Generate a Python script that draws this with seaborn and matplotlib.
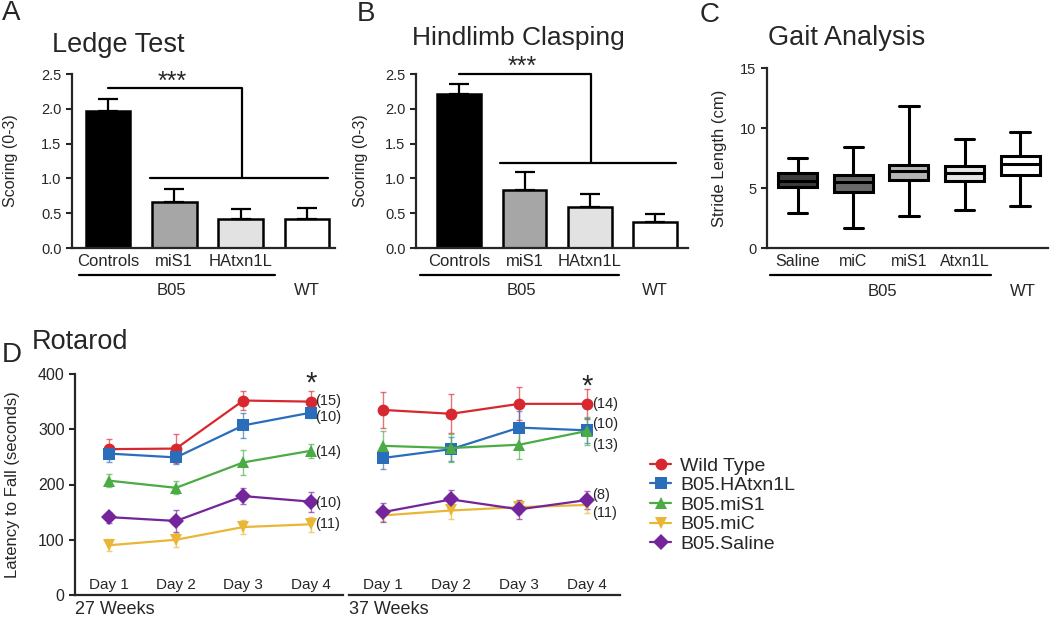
import numpy as np
import pandas as pd
import matplotlib
matplotlib.use("Agg")
import matplotlib.pyplot as plt
import seaborn as sns

sns.set_style("ticks")
plt.rcParams["font.family"] = ["Liberation Sans", "DejaVu Sans"]
plt.rcParams["axes.linewidth"] = 1.6

# A / B: behaviour scores
score_groups = ["Controls", "miS1", "HAtxn1L", "WT"]
ledge_means = [1.97, 0.66, 0.42, 0.42]
ledge_sem = [0.17, 0.19, 0.14, 0.15]
clasp_means = [2.22, 0.83, 0.59, 0.37]
clasp_sem = [0.13, 0.26, 0.19, 0.12]
bar_colors = ["black", "#a6a6a6", "#e2e2e2", "white"]

# C: gait analysis (min, quartiles, max)
gait_groups = ["Saline", "miC", "miS1", "Atxn1L", "WT"]
gait_min = [2.9, 1.7, 2.7, 3.2, 3.5]
gait_q1 = [5.05, 4.7, 5.7, 5.55, 6.1]
gait_med = [5.6, 5.5, 6.4, 6.25, 7.0]
gait_q3 = [6.25, 6.1, 6.95, 6.8, 7.7]
gait_max = [7.5, 8.4, 11.8, 9.1, 9.7]
box_colors = ["#3c3c3c", "#6a6a6a", "#b4b4b4", "#e6e6e6", "white"]

# D: rotarod
days = ["Day 1", "Day 2", "Day 3", "Day 4"]
series = ["Wild Type", "B05.HAtxn1L", "B05.miS1", "B05.miC", "B05.Saline"]
series_colors = ["#d7282f", "#2a6ebb", "#4bab45", "#e9b735", "#74259b"]
series_markers = ["o", "s", "^", "v", "D"]

wk27_mean = [[264, 265, 352, 350],
             [256, 249, 307, 330],
             [207, 194, 240, 261],
             [90, 100, 123, 128],
             [141, 134, 179, 169]]
wk27_err = [[18, 26, 17, 20],
            [16, 12, 22, 10],
            [12, 12, 22, 13],
            [11, 13, 12, 14],
            [10, 20, 15, 18]]
wk27_n = ["(15)", "(10)", "(14)", "(11)", "(10)"]
wk27_n_y = [351, 322, 259, 129, 166]

wk37_mean = [[335, 328, 346, 346],
             [248, 264, 303, 298],
             [270, 266, 272, 297],
             [144, 153, 159, 163],
             [150, 173, 155, 172]]
wk37_err = [[32, 35, 30, 27],
            [20, 22, 30, 23],
            [26, 25, 25, 25],
            [10, 15, 12, 15],
            [17, 17, 17, 17]]
wk37_n = ["(14)", "(10)", "(13)", "(11)", "(8)"]
wk37_n_y = [346, 310, 272, 148, 181]

palette = dict(zip(series, series_colors))
markers = dict(zip(series, series_markers))

fig = plt.figure(figsize=(10.5, 6.17), dpi=100)


def px(x, y):
    return x / 1050, 1 - y / 617


def score_panel(rect, means, sem, xlim, top_y, low_y, star_xy, under, b05_x):
    ax = fig.add_axes(rect)
    sns.barplot(x=score_groups, y=means, hue=score_groups, palette=bar_colors,
                saturation=1, width=0.67, edgecolor="black", linewidth=1.8,
                errorbar=None, legend=False, ax=ax)
    ax.errorbar(range(len(means)), means, yerr=[np.zeros(len(sem)), sem],
                fmt="none", ecolor="black", elinewidth=1.6, capsize=7,
                capthick=1.6, zorder=1)
    ax.set_xlim(*xlim)
    ax.set_ylim(0, 2.5)
    ax.set_yticks([0, 0.5, 1.0, 1.5, 2.0, 2.5])
    ax.set_yticklabels(["0.0", "0.5", "1.0", "1.5", "2.0", "2.5"])
    ax.set_xticks(range(3), score_groups[:3])
    ax.tick_params(axis="x", length=0, pad=4, labelsize=12)
    ax.tick_params(axis="y", length=4, width=1.5, labelsize=10.5)
    sns.despine(ax=ax)
    # significance bracket
    ax.plot([0, 2.02, 2.02], [top_y, top_y, low_y], color="black", lw=1.6,
            clip_on=False)
    ax.plot([0.63, 3.32], [low_y, low_y], color="black", lw=1.6, clip_on=False)
    ax.text(star_xy[0], star_xy[1], "***", ha="center", va="center",
            fontsize=18, clip_on=False)
    tr = ax.get_xaxis_transform()
    ax.plot(under, [-0.155, -0.155], color="black", lw=1.6, transform=tr,
            clip_on=False)
    ax.text(b05_x, -0.245, "B05", ha="center", va="center", fontsize=12,
            transform=tr)
    ax.text(3.0, -0.245, "WT", ha="center", va="center", fontsize=12,
            transform=tr)
    ax.set_xlabel("")
    return ax


axA = score_panel([72 / 1050, 0.598, 263 / 1050, 0.282], ledge_means,
                  ledge_sem, (-0.54, 3.42), 2.30, 1.0, (0.97, 2.39),
                  [-0.44, 2.51], 0.96)
axA.set_ylabel("Scoring (0-3)", fontsize=11.5)
axA.yaxis.set_label_coords(-0.205, 0.5)

axB = score_panel([416 / 1050, 0.598, 272 / 1050, 0.282], clasp_means,
                  clasp_sem, (-0.66, 3.5), 2.5, 1.22, (0.97, 2.6),
                  [-0.6, 2.45], 0.96)
axB.set_ylabel("Scoring (0-3)", fontsize=11.5)
axB.yaxis.set_label_coords(-0.176, 0.5)

# C: gait boxes
axC = fig.add_axes([767 / 1050, 0.598, 281 / 1050, 180 / 617])
gait_df = pd.DataFrame({
    "group": np.repeat(gait_groups, 5),
    "stride": np.column_stack([gait_min, gait_q1, gait_med, gait_q3,
                               gait_max]).ravel(),
})
sns.boxplot(data=gait_df, x="group", y="stride", hue="group",
            order=gait_groups, hue_order=gait_groups, palette=box_colors,
            saturation=1, whis=(0, 100), width=0.7, linecolor="black",
            linewidth=2.2, fliersize=0, legend=False, ax=axC)
axC.set_xlim(-0.55, 4.5)
axC.set_ylim(0, 15)
axC.set_yticks([0, 5, 10, 15])
axC.set_xticks(range(4), gait_groups[:4])
axC.tick_params(axis="x", length=0, pad=4, labelsize=11.5)
axC.tick_params(axis="y", length=4, width=1.5, labelsize=10.5)
sns.despine(ax=axC)
axC.set_xlabel("")
axC.set_ylabel("Stride Length (cm)", fontsize=12)
axC.yaxis.set_label_coords(-0.142, 0.5)
trC = axC.get_xaxis_transform()
axC.plot([-0.5, 3.47], [-0.15, -0.15], color="black", lw=1.6, transform=trC,
         clip_on=False)
axC.text(1.52, -0.24, "B05", ha="center", va="center", fontsize=12,
         transform=trC)
axC.text(4.05, -0.24, "WT", ha="center", va="center", fontsize=12,
         transform=trC)


# D: rotarod
def rotarod_panel(rect, means, errs, n_text, n_y, week_label, legend):
    ax = fig.add_axes(rect)
    rows = []
    for name, vals in zip(series, means):
        for i, v in enumerate(vals):
            rows.append({"day": i, "latency": v, "group": name})
    df = pd.DataFrame(rows)
    sns.lineplot(data=df, x="day", y="latency", hue="group", style="group",
                 hue_order=series, style_order=series, palette=palette,
                 markers=markers, dashes=False, markersize=8.5,
                 markeredgewidth=0, linewidth=1.6, legend=legend, ax=ax)
    for name, vals, err in zip(series, means, errs):
        ax.errorbar(range(len(days)), vals, yerr=err, fmt="none",
                    ecolor=palette[name], elinewidth=1, capsize=2.5,
                    alpha=0.65, zorder=1)
    last = len(days) - 1
    for txt, y in zip(n_text, n_y):
        ax.text(last + 0.07, y, txt, ha="left", va="center", fontsize=10.5,
                clip_on=False)
    ax.text(last, max(m[last] for m in means) + 32, "*", ha="center",
            va="center", fontsize=21)
    ax.set_xlim(-0.5, 3.48)
    ax.set_ylim(0, 400)
    ax.set_xticks(range(len(days)), days)
    ax.tick_params(axis="x", length=0, pad=-12, labelsize=11)
    ax.tick_params(axis="y", length=4, width=1.5, labelsize=11.5)
    ax.set_xlabel("")
    ax.set_ylabel("")
    sns.despine(ax=ax)
    ax.text(0, -0.025, week_label, ha="left", va="top", fontsize=13,
            transform=ax.transAxes)
    return ax


axD1 = rotarod_panel([75 / 1050, 22 / 617, 268 / 1050, 221 / 617],
                     wk27_mean, wk27_err, wk27_n, wk27_n_y, "27 Weeks", True)
axD1.set_yticks([0, 100, 200, 300, 400])
axD1.set_ylabel("Latency to Fall (seconds)", fontsize=12)
axD1.yaxis.set_label_coords(-0.205, 0.5)

axD2 = rotarod_panel([349 / 1050, 22 / 617, 271 / 1050, 221 / 617],
                     wk37_mean, wk37_err, wk37_n, wk37_n_y, "37 Weeks", False)
axD2.spines["left"].set_visible(False)
axD2.set_yticks([])

handles, labels = axD1.get_legend_handles_labels()
axD1.get_legend().remove()
fig.legend(handles, labels, loc="center left", bbox_to_anchor=px(650, 505),
           frameon=False, fontsize=14, handlelength=1.1, handletextpad=0.45,
           labelspacing=0.1, borderpad=0, borderaxespad=0)

# titles and panel letters
fig.text(*px(2, 13), "A", fontsize=20, va="center", ha="left")
fig.text(*px(52, 45), "Ledge Test", fontsize=19.5, va="center", ha="left")
fig.text(*px(357, 14), "B", fontsize=20, va="center", ha="left")
fig.text(*px(412, 38), "Hindlimb Clasping", fontsize=19, va="center",
         ha="left")
fig.text(*px(700, 15), "C", fontsize=20, va="center", ha="left")
fig.text(*px(768, 38), "Gait Analysis", fontsize=19.5, va="center",
         ha="left")
fig.text(*px(2, 355), "D", fontsize=20, va="center", ha="left")
fig.text(*px(32, 342), "Rotarod", fontsize=19.5, va="center", ha="left")

fig.savefig("out.png", dpi=100)
